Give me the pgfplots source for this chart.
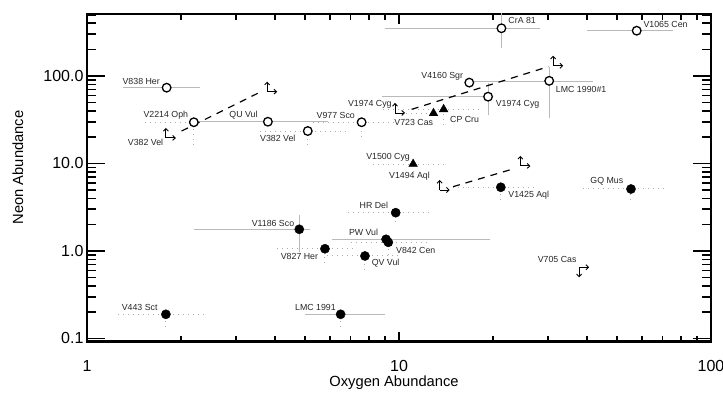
\documentclass[border=0pt]{standalone}
\usepackage{pgfplots}
\pgfplotsset{compat=1.18}
\usetikzlibrary{arrows.meta}
\usepackage{fontspec}
\setmainfont{Liberation Sans}

\pgfdeclareplotmark{limUR}{%
  \pgfsetlinewidth{0.9pt}%
  \pgfsetarrowsend{Straight Barb[length=2.6pt,width=5pt]}%
  \pgfpathmoveto{\pgfpointorigin}\pgfpathlineto{\pgfpoint{0pt}{10pt}}\pgfusepath{stroke}%
  \pgfpathmoveto{\pgfpointorigin}\pgfpathlineto{\pgfpoint{10pt}{0pt}}\pgfusepath{stroke}%
}
\pgfdeclareplotmark{limDR}{%
  \pgfsetlinewidth{0.9pt}%
  \pgfsetarrowsend{Straight Barb[length=2.6pt,width=5pt]}%
  \pgfpathmoveto{\pgfpointorigin}\pgfpathlineto{\pgfpoint{0pt}{-10pt}}\pgfusepath{stroke}%
  \pgfpathmoveto{\pgfpointorigin}\pgfpathlineto{\pgfpoint{10pt}{0pt}}\pgfusepath{stroke}%
}

\tikzset{
  sbar/.style={gray!55, line width=1pt},
  dbar/.style={gray!65, line width=1pt, dash pattern=on 1pt off 4pt},
  lab/.style={font=\fontsize{8.8}{10}\selectfont, inner sep=0pt, text=black!85},
}

\begin{document}
\begin{tikzpicture}
% y ticks
\begin{axis}[
  xmode=log, ymode=log,
  xmin=1, xmax=100, ymin=0.0919, ymax=511,
  scale only axis, width=624pt, height=327.7pt,
  at={(87pt,54.3pt)}, anchor=south west,
  axis line style={line width=2.4pt, black},
  tick style={line width=1.6pt, black},
  tick align=inside,
  ticklabel style={font=\fontsize{16}{18}\selectfont},
  xtick=\empty, minor xtick={},
  ytick={0.1,1,10,100}, yticklabels={0.1,1.0,10.0,100.0},
  minor ytick={0.2,0.3,0.4,0.5,0.6,0.7,0.8,0.9,2,3,4,5,6,7,8,9,20,30,40,50,60,70,80,90,200,300,400,500},
  major tick length=18pt, minor tick length=9pt,
]
\end{axis}
% x tick labels, x tick marks drawn as grid dashes at both ends
\begin{axis}[
  xmode=log, ymode=log,
  xmin=1, xmax=100, ymin=0.0919, ymax=511,
  scale only axis, width=624pt, height=327.7pt,
  at={(87pt,54.3pt)}, anchor=south west,
  axis line style={line width=2.4pt, black},
  tick style={draw=none},
  ticklabel style={font=\fontsize{16}{18}\selectfont},
  xtick={1,10,100}, xticklabels={1,10,100},
  minor xtick={2,3,4,5,6,7,8,9,20,30,40,50,60,70,80,90},
  ytick=\empty, minor ytick={},
  major tick length=0pt, minor tick length=0pt,
  xmajorgrids, xminorgrids,
  major x grid style={black, line width=1.6pt, solid, dash pattern=on 10pt off 307.7pt},
  minor x grid style={black, line width=1.6pt, solid, dash pattern=on 6pt off 315.7pt},
  xticklabel style={yshift=-15pt},
]
\end{axis}
% data
\begin{axis}[
  xmode=log, ymode=log,
  xmin=1, xmax=100, ymin=0.0919, ymax=511,
  scale only axis, width=624pt, height=327.7pt,
  at={(87pt,54.3pt)}, anchor=south west,
  axis line style={line width=2.4pt, black},
  xtick=\empty, minor xtick={}, ytick=\empty, minor ytick={},
  clip mode=individual,
]
% solid gray error bars
\addplot[sbar, mark=none] coordinates {(1.30,73.5) (2.30,73.5)};
\addplot[sbar, mark=none] coordinates {(2.25,30.0) (5.9,30.0)};
\addplot[sbar, mark=none] coordinates {(9.0,351) (28.3,351)};
\addplot[sbar, mark=none] coordinates {(21.3,209) (21.3,700)};
\addplot[sbar, mark=none] coordinates {(40.0,329) (75.5,329)};
\addplot[sbar, mark=none] coordinates {(16.8,87.0) (41.9,87.0)};
\addplot[sbar, mark=none] coordinates {(30.3,33.1) (30.3,127)};
\addplot[sbar, mark=none] coordinates {(8.81,58.0) (19.3,58.0)};
\addplot[sbar, mark=none] coordinates {(19.3,35.8) (19.3,82.6)};
\addplot[sbar, mark=none] coordinates {(6.09,1.36) (19.6,1.36)};
\addplot[sbar, mark=none] coordinates {(2.21,1.77) (5.19,1.77)};
\addplot[sbar, mark=none] coordinates {(4.79,0.98) (4.79,2.58)};
\addplot[sbar, mark=none] coordinates {(5.0,0.189) (9.0,0.189)};
% dotted gray error bars
\addplot[dbar, mark=none] coordinates {(1.53,29.6) (2.2,29.6)};
\addplot[dbar, mark=none] coordinates {(2.2,16.3) (2.2,29.6)};
\addplot[dbar, mark=none] coordinates {(3.59,23.5) (6.8,23.5)};
\addplot[dbar, mark=none] coordinates {(5.10,16.3) (5.10,23.5)};
\addplot[dbar, mark=none] coordinates {(5.3,29.6) (9.8,29.6)};
\addplot[dbar, mark=none] coordinates {(7.59,20.3) (7.59,29.6)};
\addplot[dbar, mark=none] coordinates {(8.9,41.6) (18.2,41.6)};
\addplot[dbar, mark=none] coordinates {(13.9,27.5) (13.9,41.6)};
\addplot[dbar, mark=none] coordinates {(10.5,37.5) (12.9,37.5)};
\addplot[dbar, mark=none] coordinates {(8.28,9.86) (14.0,9.86)};
\addplot[dbar, mark=none] coordinates {(11.1,7.0) (11.1,9.86)};
\addplot[dbar, mark=none] coordinates {(14.9,5.35) (27.6,5.35)};
\addplot[dbar, mark=none] coordinates {(21.2,3.83) (21.2,5.35)};
\addplot[dbar, mark=none] coordinates {(38.9,5.11) (72.4,5.11)};
\addplot[dbar, mark=none] coordinates {(55.4,3.83) (55.4,5.11)};
\addplot[dbar, mark=none] coordinates {(6.85,2.74) (12.8,2.74)};
\addplot[dbar, mark=none] coordinates {(9.76,2.14) (9.76,2.74)};
\addplot[dbar, mark=none] coordinates {(7.0,1.257) (12.3,1.257)};
\addplot[dbar, mark=none] coordinates {(9.24,0.79) (9.24,1.257)};
\addplot[dbar, mark=none] coordinates {(4.06,1.06) (7.1,1.06)};
\addplot[dbar, mark=none] coordinates {(5.79,0.735) (5.79,1.06)};
\addplot[dbar, mark=none] coordinates {(5.88,0.877) (10.1,0.877)};
\addplot[dbar, mark=none] coordinates {(7.78,0.606) (7.78,0.877)};
\addplot[dbar, mark=none] coordinates {(1.26,0.189) (2.36,0.189)};
\addplot[dbar, mark=none] coordinates {(1.79,0.136) (1.79,0.189)};
\addplot[dbar, mark=none] coordinates {(6.50,0.136) (6.50,0.189)};
% dashed trend lines
\addplot[black, mark=none, line width=1.2pt, dash pattern=on 7pt off 6pt] coordinates {(2.01,23.5) (3.63,66.7)};
\addplot[black, mark=none, line width=1.2pt, dash pattern=on 7pt off 6pt] coordinates {(10.98,41.6) (30.1,127.7)};
\addplot[black, mark=none, line width=1.2pt, dash pattern=on 7pt off 6pt] coordinates {(14.9,5.43) (23.0,8.58)};
% limit arrows
\addplot[only marks, black, mark=limUR] coordinates {(1.79,19.6) (3.78,66.2) (9.71,37.8) (31.2,131) (13.5,4.98) (24.5,9.38)};
\addplot[only marks, black, mark=limDR] coordinates {(37.8,0.651)};
% open circles
\addplot[only marks, mark=*, mark size=4.3pt, mark options={draw=black, fill=white, line width=1.3pt}] coordinates {
(1.80,73.5) (2.20,29.6) (3.80,30.0) (5.10,23.5) (7.59,29.6) (21.3,351) (57.8,329) (16.8,84.0) (30.3,88.0) (19.3,58.0)};
% filled triangles
\addplot[only marks, mark=triangle*, mark size=5pt, mark options={draw=black, fill=black}] coordinates {
(12.9,37.5) (13.9,41.6) (11.1,9.86)};
% filled circles
\addplot[only marks, mark=*, mark size=4.6pt, mark options={draw=black, fill=black}] coordinates {
(21.2,5.35) (55.4,5.11) (9.76,2.74) (9.09,1.36) (9.24,1.257) (4.79,1.77) (5.79,1.06) (7.78,0.877) (1.79,0.189) (6.50,0.189)};
% labels
\node[lab, anchor=east] at (axis cs:1.714,86.1) {V838 Her};
\node[lab, anchor=east] at (axis cs:2.112,35.2) {V2214 Oph};
\node[lab, anchor=east] at (axis cs:1.757,17.3) {V382 Vel};
\node[lab, anchor=west] at (axis cs:2.858,35.8) {QU Vul};
\node[lab, anchor=west] at (axis cs:3.585,19.4) {V382 Vel};
\node[lab, anchor=east] at (axis cs:7.23,35.2) {V977 Sco};
\node[lab, anchor=east] at (axis cs:9.48,47.9) {V1974 Cyg};
\node[lab, anchor=east] at (axis cs:12.88,29.6) {V723 Cas};
\node[lab, anchor=west] at (axis cs:14.57,32.0) {CP Cru};
\node[lab, anchor=east] at (axis cs:16.07,100) {V4160 Sgr};
\node[lab, anchor=west] at (axis cs:20.4,47.5) {V1974 Cyg};
\node[lab, anchor=west] at (axis cs:31.8,70.5) {LMC 1990\#1};
\node[lab, anchor=west] at (axis cs:22.4,436) {CrA 81};
\node[lab, anchor=west] at (axis cs:60.7,393) {V1065 Cen};
\node[lab, anchor=east] at (axis cs:10.85,11.77) {V1500 Cyg};
\node[lab, anchor=east] at (axis cs:12.57,7.2) {V1494 Aql};
\node[lab, anchor=west] at (axis cs:22.4,4.37) {V1425 Aql};
\node[lab, anchor=east] at (axis cs:52.4,6.19) {GQ Mus};
\node[lab, anchor=east] at (axis cs:9.24,3.30) {HR Del};
\node[lab, anchor=east] at (axis cs:4.62,2.07) {V1186 Sco};
\node[lab, anchor=east] at (axis cs:8.58,1.62) {PW Vul};
\node[lab, anchor=west] at (axis cs:9.78,1.027) {V842 Cen};
\node[lab, anchor=east] at (axis cs:5.51,0.861) {V827 Her};
\node[lab, anchor=west] at (axis cs:8.17,0.723) {QV Vul};
\node[lab, anchor=east] at (axis cs:1.685,0.227) {V443 Sct};
\node[lab, anchor=east] at (axis cs:6.28,0.225) {LMC 1991};
\node[lab, anchor=east] at (axis cs:37.1,0.804) {V705 Cas};
% axis labels
\node[font=\fontsize{14.7}{17}\selectfont, anchor=center] at (axis description cs:0.492,-0.126) {Oxygen Abundance};
\node[font=\fontsize{14.7}{17}\selectfont, anchor=center, rotate=90] at (axis description cs:-0.1106,0.5316) {Neon Abundance};
\end{axis}
\pgfresetboundingbox
\path[use as bounding box] (0,0) rectangle (723pt,396pt);
\end{tikzpicture}
\end{document}
